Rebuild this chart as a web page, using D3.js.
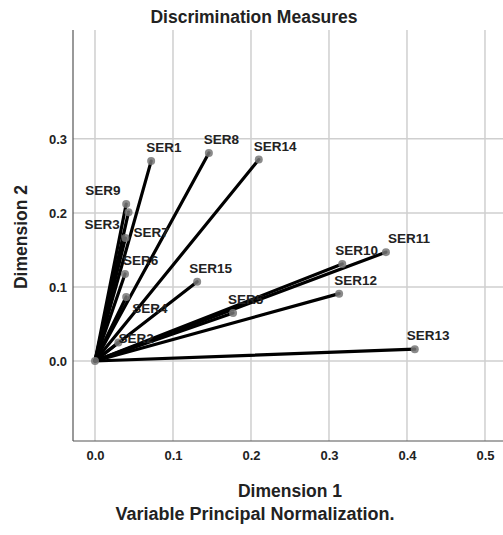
<!DOCTYPE html>
<html>
<head>
<meta charset="utf-8">
<script src="https://cdn.jsdelivr.net/npm/d3@7"></script>
<style>
  body { margin:0; background:#fff; }
  svg text { font-family:"Liberation Sans", Arial, sans-serif; }
</style>
</head>
<body>
<div id="chart"></div>
<script>
// variables and their discrimination measures on two dimensions
const names = ["SER1","SER2","SER3","SER4","SER5","SER6","SER7","SER8","SER9","SER10","SER11","SER12","SER13","SER14","SER15"];
const dim1 = [0.072,0.030,0.039,0.040,0.177,0.0385,0.043,0.146,0.040,0.317,0.373,0.313,0.410,0.210,0.131];
const dim2 = [0.270,0.025,0.166,0.0865,0.065,0.1176,0.201,0.281,0.212,0.131,0.147,0.091,0.016,0.272,0.107];
const xTicks = [0,0.1,0.2,0.3,0.4,0.5];
const yTicks = [0,0.1,0.2,0.3];

// label nudges (px) where labels were moved to avoid overlap
const labelShift = {
  SER9:[-36,0], SER3:[-36,0], SER7:[10,34], SER6:[3,0], SER4:[11,25],
  SER2:[5,9], SER11:[7,0], SER10:[-2,0], SER13:[-3,0], SER15:[-3,0]
};

const W = 503, H = 535;
const m = {left:73, top:30, right:0, bottom:94};
const svg = d3.select("#chart").append("svg").attr("width",W).attr("height",H);

const x = d3.scaleLinear().domain([-0.0282,0.5231]).range([m.left, W-m.right]);
const y = d3.scaleLinear().domain([-0.108,0.447]).range([H-m.bottom, m.top]);

//grid
svg.append("g").selectAll("line").data(xTicks).enter().append("line")
  .attr("x1",d=>x(d)).attr("x2",d=>x(d))
  .attr("y1",m.top).attr("y2",H-m.bottom)
  .attr("stroke","#cfcfcf").attr("stroke-width",1.5);
svg.append("g").selectAll("line").data(yTicks).enter().append("line")
  .attr("x1",m.left).attr("x2",W)
  .attr("y1",d=>y(d)).attr("y2",d=>y(d))
  .attr("stroke","#cfcfcf").attr("stroke-width",1.5);

//axes
const xAxis = svg.append("g").attr("transform",`translate(0,${H-m.bottom})`)
  .call(d3.axisBottom(x).tickValues(xTicks).tickFormat(d3.format(".1f")).tickSize(0).tickPadding(10));
const yAxis = svg.append("g").attr("transform",`translate(${m.left},0)`)
  .call(d3.axisLeft(y).tickValues(yTicks).tickFormat(d3.format(".1f")).tickSize(0).tickPadding(6));
[xAxis,yAxis].forEach(a=>{
  a.select(".domain").attr("stroke","#555").attr("stroke-width",1.2);
  a.selectAll("text").attr("font-size",13).attr("font-weight","bold").attr("fill","#222");
});
yAxis.select(".domain").attr("d",`M0,${m.top}V${H-m.bottom}`);
xAxis.select(".domain").attr("d",`M${m.left},0H${W}`);

const data = names.map((n,i)=>({name:n, x:dim1[i], y:dim2[i]}));

//vectors
svg.append("g").selectAll("line").data(data).enter().append("line")
  .attr("x1",x(0)).attr("y1",y(0))
  .attr("x2",d=>x(d.x)).attr("y2",d=>y(d.y))
  .attr("stroke","#000").attr("stroke-width",3.2).attr("stroke-linecap","round");

//points
svg.append("g").selectAll("circle").data([{x:0,y:0}].concat(data)).enter().append("circle")
  .attr("cx",d=>x(d.x)).attr("cy",d=>y(d.y)).attr("r",4)
  .attr("fill","#777").attr("fill-opacity",0.85);

//labels
svg.append("g").selectAll("text").data(data).enter().append("text")
  .attr("x",d=>x(d.x)-5+(labelShift[d.name]||[0,0])[0])
  .attr("y",d=>y(d.y)-9+(labelShift[d.name]||[0,0])[1])
  .attr("font-size",13.5).attr("font-weight","bold").attr("fill","#222")
  .text(d=>d.name);

//titles
svg.append("text").attr("x",254).attr("y",23).attr("text-anchor","middle")
  .attr("font-size",17.5).attr("font-weight","bold").attr("fill","#222").text("Discrimination Measures");
svg.append("text").attr("x",290).attr("y",497).attr("text-anchor","middle")
  .attr("font-size",17.5).attr("font-weight","bold").attr("fill","#222").text("Dimension 1");
svg.append("text").attr("transform","translate(27,237) rotate(-90)").attr("text-anchor","middle")
  .attr("font-size",17.5).attr("font-weight","bold").attr("fill","#222").text("Dimension 2");
svg.append("text").attr("x",255).attr("y",520).attr("text-anchor","middle")
  .attr("font-size",18).attr("font-weight","bold").attr("fill","#222").text("Variable Principal Normalization.");
</script>
</body>
</html>
